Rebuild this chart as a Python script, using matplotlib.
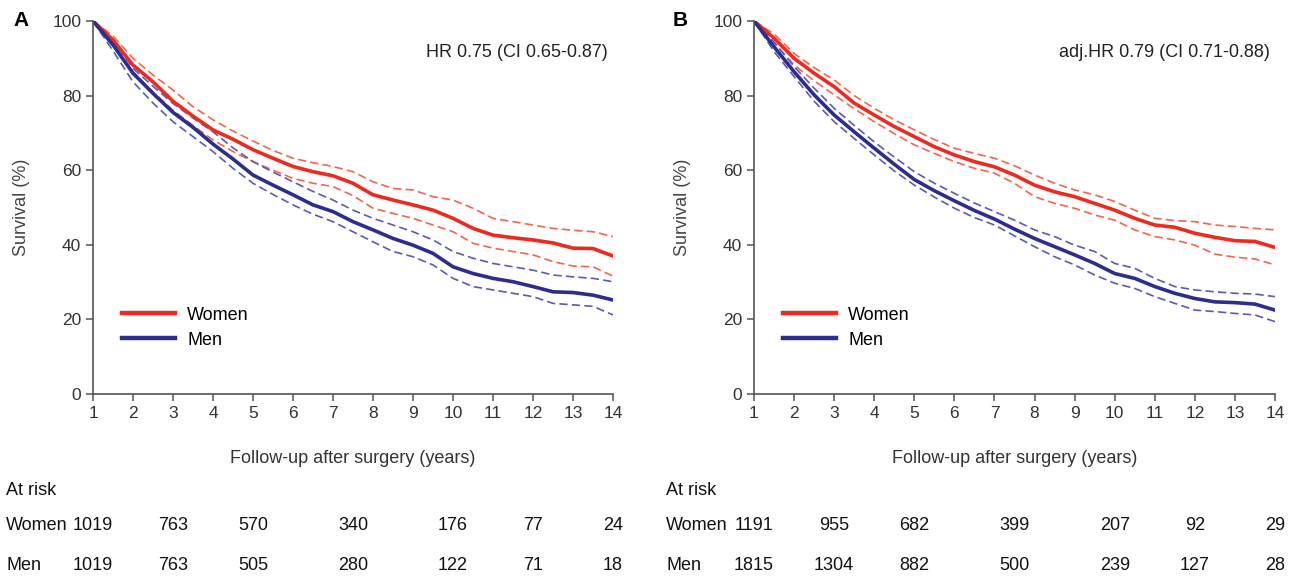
import matplotlib
matplotlib.use("Agg")
import matplotlib.pyplot as plt
import matplotlib.transforms as transforms
from matplotlib.lines import Line2D

plt.rcParams['font.family'] = ['Liberation Sans', 'DejaVu Sans']

years = [1, 1.5, 2, 2.5, 3, 3.5, 4, 4.5, 5, 5.5, 6, 6.5, 7, 7.5,
         8, 8.5, 9, 9.5, 10, 10.5, 11, 11.5, 12, 12.5, 13, 13.5, 14]

# panel A (unadjusted)
women_a = [100, 94.9, 88.2, 83.7, 78.5, 74.5, 70.8, 68.3, 65.5, 63.2, 61, 59.6, 58.5, 56.5,
           53.4, 52, 50.7, 49.3, 47.1, 44.4, 42.6, 41.9, 41.3, 40.5, 39.1, 39, 37]
women_a_hi = [100, 96, 90, 85.5, 81.5, 77, 73.5, 70.5, 67.8, 65.3, 63.2, 62, 61, 59.6,
              56.9, 55.1, 54.7, 52.9, 52, 49.8, 47.1, 46.2, 45.3, 44.4, 43.9, 43.5, 42.2]
women_a_lo = [100, 93.5, 86.4, 81, 76.1, 72, 68.1, 65, 62.3, 60, 57.8, 56.5, 55.6, 53.2,
              49.8, 48.4, 47.1, 45.3, 43.5, 40.4, 39.1, 38.2, 37.3, 35.5, 34.3, 34.1, 31.6]
men_a = [100, 93.6, 86, 80.6, 75.5, 71.5, 67, 63, 58.7, 56, 53.4, 50.7, 48.9, 46.2,
         44, 41.7, 39.9, 37.7, 34.1, 32.3, 31, 30.1, 28.8, 27.4, 27.2, 26.5, 25.2]
men_a_hi = [100, 95, 87.3, 82.5, 77.9, 74, 70.3, 66, 62.3, 59.5, 56.9, 54.3, 52, 49.3,
            47.1, 45.3, 43.5, 41.3, 38.2, 36.4, 35, 34.1, 33.2, 31.9, 31.4, 31, 30.1]
men_a_lo = [100, 92, 83.7, 78, 73, 69, 65, 60.5, 56.5, 53.5, 50.7, 48.2, 46.2, 43.5,
            40.8, 38.2, 36.8, 34.6, 31, 28.8, 27.9, 27, 26.1, 24.3, 23.9, 23.5, 21.2]

# panel B (adjusted)
women_b = [100, 95.4, 90, 86, 82.4, 78, 74.8, 71.7, 69, 66.3, 64.1, 62.3, 60.9, 58.7,
           56, 54.2, 52.9, 51.1, 49.3, 47.1, 45.3, 44.7, 43.1, 42, 41.1, 40.9, 39.3]
women_b_hi = [100, 96.5, 91.3, 87.5, 84.2, 80, 76.6, 73.5, 70.8, 68.2, 65.9, 64.5, 63.2, 61.2,
              58.7, 56.5, 54.7, 53.4, 51.6, 49.3, 47.1, 46.5, 46.2, 45.3, 44.9, 44.4, 44]
women_b_lo = [100, 94.3, 88.2, 84, 80.2, 76.5, 73, 69.8, 66.8, 64.5, 62.3, 60.5, 59.2, 56.5,
              52.9, 51.1, 49.8, 48, 46.6, 44, 42.2, 41.3, 39.9, 37.5, 36.7, 36.2, 34.6]
men_b = [100, 93.1, 86.4, 80.2, 74.8, 70.3, 65.9, 61.6, 57.5, 54.5, 51.8, 49.2, 46.9, 44.2,
         41.7, 39.5, 37.3, 35, 32.3, 31, 28.8, 27, 25.6, 24.7, 24.5, 24.1, 22.5]
men_b_hi = [100, 94.3, 87.8, 82, 76.6, 72, 67.6, 63.5, 59.6, 56.5, 53.8, 51.2, 48.9, 46.6,
            44, 42.2, 39.9, 38.2, 35, 33.7, 31, 28.8, 27.9, 27.4, 27, 26.8, 26.1]
men_b_lo = [100, 91.8, 85.1, 78.5, 73, 68.5, 64.1, 59.8, 56, 52.8, 49.8, 47.3, 45.3, 42.4,
            39.5, 36.8, 34.6, 31.9, 29.7, 28.3, 26.1, 24.3, 22.5, 22.1, 21.6, 21.2, 19.4]

risk_years = [1, 3, 5, 7.5, 10, 12, 14]
risk_women_a = [1019, 763, 570, 340, 176, 77, 24]
risk_men_a = [1019, 763, 505, 280, 122, 71, 18]
risk_women_b = [1191, 955, 682, 399, 207, 92, 29]
risk_men_b = [1815, 1304, 882, 500, 239, 127, 28]

RED = '#ec2a20'
RED_CI = '#f2654d'
BLUE = '#2b2d8f'
BLUE_CI = '#5a5ab8'
GREY = '#444444'
FS = 13

fig = plt.figure(figsize=(12.89, 5.76), dpi=100)


def draw_panel(ax, w, w_hi, w_lo, m, m_hi, m_lo, hr_text, letter, rw, rm, label_x):
    dash = (5, 2.5)
    ax.plot(years, w_hi, color=RED_CI, lw=1.2, dashes=dash)
    ax.plot(years, w_lo, color=RED_CI, lw=1.2, dashes=dash)
    ax.plot(years, m_hi, color=BLUE_CI, lw=1.2, dashes=dash)
    ax.plot(years, m_lo, color=BLUE_CI, lw=1.2, dashes=dash)
    ax.plot(years, w, color=RED, lw=2.6)
    ax.plot(years, m, color=BLUE, lw=2.6)

    ax.set_xlim(1, 14)
    ax.set_ylim(0, 100)
    ax.set_xticks(range(1, 15))
    ax.set_yticks(range(0, 101, 20))
    for s in ['top', 'right']:
        ax.spines[s].set_visible(False)
    for s in ['left', 'bottom']:
        ax.spines[s].set_color('#555555')
        ax.spines[s].set_linewidth(1.2)
    ax.tick_params(colors='#555555', labelcolor='#333333', labelsize=12.5,
                   length=5, width=1.1, direction='out')
    ax.set_xlabel('Follow-up after surgery (years)', fontsize=FS, color='#333333', labelpad=21)
    ax.set_ylabel('Survival (%)', fontsize=FS, color=GREY, labelpad=16)
    ax.text(0.99, 0.915, hr_text, transform=ax.transAxes, ha='right', va='center',
            fontsize=FS, color='#222222')

    handles = [Line2D([], [], color=RED, lw=3.2), Line2D([], [], color=BLUE, lw=3.2)]
    ax.legend(handles, ['Women', 'Men'], loc='upper left', bbox_to_anchor=(0.025, 0.278),
              frameon=False, fontsize=FS, handlelength=2.9, handletextpad=0.7,
              labelspacing=0.45)

    # panel letter
    fig.text(label_x + 7 / 1289, 0.965, letter, fontsize=15, fontweight='bold', va='center')

    # numbers at risk
    tr = transforms.blended_transform_factory(ax.transData, fig.transFigure)
    fig.text(label_x, 0.149, 'At risk', fontsize=FS, va='center', color='#111111')
    fig.text(label_x, 0.0885, 'Women', fontsize=FS, va='center', color='#111111')
    fig.text(label_x, 0.0185, 'Men', fontsize=FS, va='center', color='#111111')
    for x, a, b in zip(risk_years, rw, rm):
        ax.text(x, 0.0885, str(a), transform=tr, ha='center', va='center',
                fontsize=FS, color='#111111')
        ax.text(x, 0.0185, str(b), transform=tr, ha='center', va='center',
                fontsize=FS, color='#111111')


ax_a = fig.add_axes([93 / 1289, 182 / 576, 520 / 1289, 373 / 576])
ax_b = fig.add_axes([754 / 1289, 182 / 576, 521 / 1289, 373 / 576])

draw_panel(ax_a, women_a, women_a_hi, women_a_lo, men_a, men_a_hi, men_a_lo,
           'HR 0.75 (CI 0.65-0.87)', 'A', risk_women_a, risk_men_a, 6 / 1289)
draw_panel(ax_b, women_b, women_b_hi, women_b_lo, men_b, men_b_hi, men_b_lo,
           'adj.HR 0.79 (CI 0.71-0.88)', 'B', risk_women_b, risk_men_b, 666 / 1289)

fig.savefig('out.png', dpi=100)
